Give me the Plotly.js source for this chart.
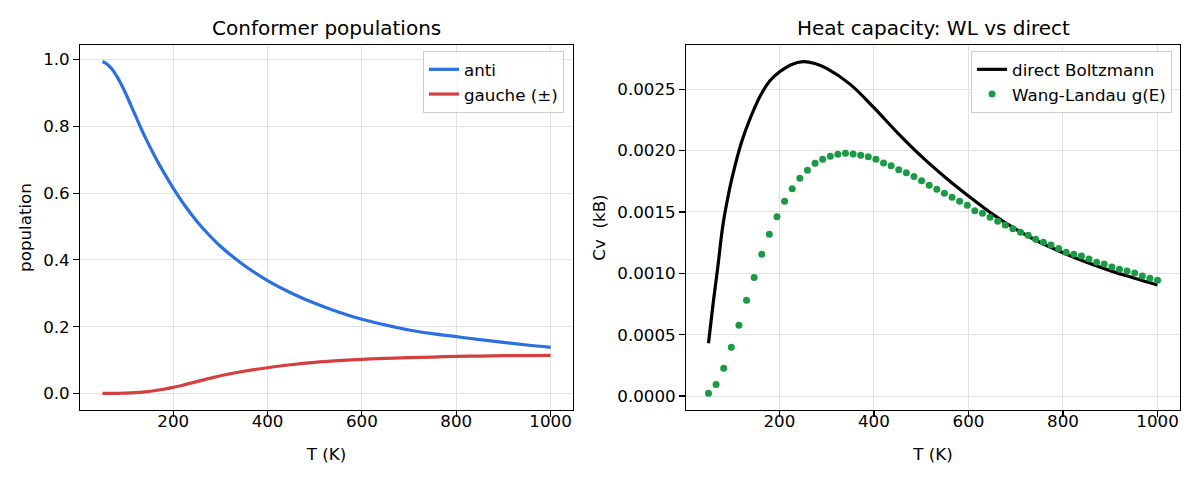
<!DOCTYPE html>
<html>
<head>
<meta charset="utf-8">
<script src="https://cdn.plot.ly/plotly-3.0.1.min.js"></script>
<style>
  html, body { margin: 0; padding: 0; background: #ffffff; }
  #chart { width: 1200px; height: 480px; }
</style>
</head>
<body>
<div id="chart"></div>
<script>
// Temperature grid (K) for the conformer populations and the direct Boltzmann Cv
const tempGrid = [50, 60, 70, 80, 90, 100, 120, 140, 160, 180, 200, 225, 250, 275, 300,
  350, 400, 450, 500, 550, 600, 650, 700, 750, 800, 850, 900, 950, 1000];

// Population of the anti conformer
const antiPop = [0.994, 0.986, 0.972, 0.951, 0.925, 0.896, 0.832, 0.769, 0.713, 0.662, 0.615,
  0.562, 0.516, 0.476, 0.441, 0.384, 0.338, 0.301, 0.270, 0.244, 0.222, 0.205, 0.190, 0.179,
  0.170, 0.161, 0.153, 0.145, 0.138];

// Population of each gauche conformer (+ and - are degenerate)
const gauchePop = [0.000, 0.000, 0.000, 0.0003, 0.0006, 0.001, 0.0025, 0.0048, 0.008, 0.0125,
  0.018, 0.0265, 0.0355, 0.0445, 0.053, 0.0665, 0.077, 0.086, 0.093, 0.098, 0.102, 0.105, 0.107,
  0.109, 0.111, 0.112, 0.113, 0.1135, 0.114];

// Heat capacity from direct Boltzmann sums (units of kB)
const cvDirect = [0.00043, 0.00076, 0.00106, 0.00138, 0.00160, 0.00178, 0.00207, 0.00228,
  0.00245, 0.00257, 0.00264, 0.00270, 0.002725, 0.00271, 0.00267, 0.00254, 0.00235, 0.002145,
  0.001955, 0.001785, 0.00163, 0.001485, 0.00136, 0.001255, 0.001168, 0.00109, 0.001022,
  0.000962, 0.000905];

// Temperatures at which the Wang-Landau density of states was evaluated
const tempWL = [50.00, 66.10, 82.20, 98.31, 114.41, 130.51, 146.61, 162.71, 178.81, 194.92,
  211.02, 227.12, 243.22, 259.32, 275.42, 291.53, 307.63, 323.73, 339.83, 355.93,
  372.03, 388.14, 404.24, 420.34, 436.44, 452.54, 468.64, 484.75, 500.85, 516.95,
  533.05, 549.15, 565.25, 581.36, 597.46, 613.56, 629.66, 645.76, 661.86, 677.97,
  694.07, 710.17, 726.27, 742.37, 758.47, 774.58, 790.68, 806.78, 822.88, 838.98,
  855.08, 871.19, 887.29, 903.39, 919.49, 935.59, 951.69, 967.80, 983.90, 1000.00];

// Heat capacity reconstructed from the Wang-Landau g(E)
const cvWL = [0.000022, 0.000095, 0.000226, 0.000397, 0.000576, 0.000780, 0.000967, 0.001155,
  0.001318, 0.001462, 0.001587, 0.001690, 0.001774, 0.001840, 0.001897, 0.001930, 0.001955,
  0.001970, 0.001978, 0.001973, 0.001962, 0.001950, 0.001930, 0.001900, 0.001877, 0.001845,
  0.001820, 0.001790, 0.001755, 0.001717, 0.001685, 0.001652, 0.001620, 0.001587, 0.001554,
  0.001510, 0.001489, 0.001457, 0.001424, 0.001394, 0.001364, 0.001334, 0.001310, 0.001277,
  0.001253, 0.001230, 0.001202, 0.001171, 0.001155, 0.001141, 0.001117, 0.001090, 0.001076,
  0.001052, 0.001033, 0.001019, 0.001003, 0.000978, 0.000959, 0.000943];

const FONT = 'DejaVu Sans, sans-serif';
const GRID = '#e2e2e2';
const FS = 16.7;   // tick, axis-label and legend text
const FT = 20;     // panel titles

const traces = [
  { x: tempGrid, y: antiPop, type: 'scatter', mode: 'lines', name: 'anti',
    line: { color: '#2b70e0', width: 3.2, shape: 'spline' }, xaxis: 'x', yaxis: 'y', legend: 'legend' },
  { x: tempGrid, y: gauchePop, type: 'scatter', mode: 'lines', name: 'gauche (±)',
    line: { color: '#d43f3f', width: 3.2, shape: 'spline' }, xaxis: 'x', yaxis: 'y', legend: 'legend' },
  { x: tempGrid, y: cvDirect, type: 'scatter', mode: 'lines', name: 'direct Boltzmann',
    line: { color: '#000000', width: 3.2, shape: 'spline' }, xaxis: 'x2', yaxis: 'y2', legend: 'legend2' },
  { x: tempWL, y: cvWL, type: 'scatter', mode: 'markers', name: 'Wang-Landau g(E)',
    marker: { color: '#1a9a45', size: 7 }, xaxis: 'x2', yaxis: 'y2', legend: 'legend2' }
];

function axisBase(extra) {
  return Object.assign({
    showline: true, linecolor: '#000000', linewidth: 1.2, mirror: true,
    ticks: 'outside', ticklen: 5.8, tickwidth: 1.2, tickcolor: '#000000',
    showgrid: true, gridcolor: GRID, gridwidth: 1, zeroline: false,
    tickfont: { family: FONT, size: FS, color: '#000000' }
  }, extra);
}

const legendBox = {
  bgcolor: 'rgba(255,255,255,0.8)', bordercolor: '#cccccc', borderwidth: 1,
  font: { family: FONT, size: FS, color: '#000000' },
  yanchor: 'top', xanchor: 'right', tracegroupgap: 0
};

const layout = {
  width: 1200, height: 480,
  paper_bgcolor: '#ffffff', plot_bgcolor: '#ffffff',
  margin: { l: 0, r: 0, t: 0, b: 0 },
  font: { family: FONT, color: '#000000' },
  xaxis: axisBase({ domain: [0.0667, 0.4775], range: [2.5, 1047.5],
    tickvals: [200, 400, 600, 800, 1000], anchor: 'y', ticklabelstandoff: -10,
    title: { text: 'T (K)', font: { family: FONT, size: FS }, standoff: 18 } }),
  yaxis: axisBase({ domain: [0.1458, 0.9063], range: [-0.0497, 1.0437],
    tickvals: [0, 0.2, 0.4, 0.6, 0.8, 1.0], tickformat: '.1f', anchor: 'x',
    title: { text: 'population', font: { family: FONT, size: FS }, standoff: 7 } }),
  xaxis2: axisBase({ domain: [0.5717, 0.9833], range: [2.5, 1047.5],
    tickvals: [200, 400, 600, 800, 1000], anchor: 'y2', ticklabelstandoff: -10,
    title: { text: 'T (K)', font: { family: FONT, size: FS }, standoff: 18 } }),
  yaxis2: axisBase({ domain: [0.1458, 0.9063], range: [-0.000114, 0.002861],
    tickvals: [0, 0.0005, 0.001, 0.0015, 0.002, 0.0025], tickformat: '.4f', anchor: 'x2',
    title: { text: 'Cv  (kB)', font: { family: FONT, size: FS }, standoff: 7 } }),
  legend: Object.assign({ x: 0.47, y: 0.8938 }, legendBox),
  legend2: Object.assign({ x: 0.9767, y: 0.8938 }, legendBox),
  annotations: [
    { text: 'Conformer populations', xref: 'paper', yref: 'paper', x: 0.2721, y: 0.9063,
      xanchor: 'center', yanchor: 'bottom', yshift: 3, showarrow: false,
      font: { family: FONT, size: FT, color: '#000000' } },
    { text: 'Heat capacity: WL vs direct', xref: 'paper', yref: 'paper', x: 0.7775, y: 0.9063,
      xanchor: 'center', yanchor: 'bottom', yshift: 3, showarrow: false,
      font: { family: FONT, size: FT, color: '#000000' } }
  ],
  showlegend: true
};

Plotly.newPlot('chart', traces, layout, { displayModeBar: false, staticPlot: true });
</script>
</body>
</html>
